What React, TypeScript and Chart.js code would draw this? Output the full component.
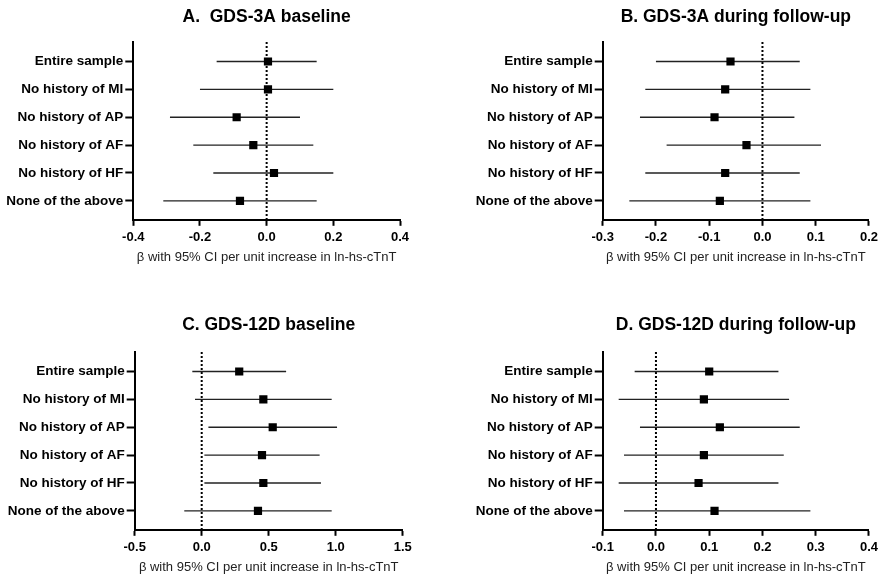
import React, { useEffect, useRef } from "react";
import { Chart, registerables } from "chart.js";

Chart.register(...registerables);

const FONT = "'Liberation Sans', Arial, sans-serif";

const categories = [
  "Entire sample",
  "No history of MI",
  "No history of AP",
  "No history of AF",
  "No history of HF",
  "None of the above",
];

const axisTitle = "β with 95% CI per unit increase in ln-hs-cTnT";

// Panel A
const titleA = "A.  GDS-3A baseline";
const betaA = [0.004, 0.004, -0.09, -0.04, 0.022, -0.08];
const lowA = [-0.15, -0.2, -0.29, -0.22, -0.16, -0.31];
const highA = [0.15, 0.2, 0.1, 0.14, 0.2, 0.15];
const ticksA = [-0.4, -0.2, 0, 0.2, 0.4];

// Panel B
const titleB = "B. GDS-3A during follow-up";
const betaB = [-0.06, -0.07, -0.09, -0.03, -0.07, -0.08];
const lowB = [-0.2, -0.22, -0.23, -0.18, -0.22, -0.25];
const highB = [0.07, 0.09, 0.06, 0.11, 0.07, 0.09];
const ticksB = [-0.3, -0.2, -0.1, 0, 0.1, 0.2];

// Panel C
const titleC = "C. GDS-12D baseline";
const betaC = [0.28, 0.46, 0.53, 0.45, 0.46, 0.42];
const lowC = [-0.07, -0.05, 0.05, 0.02, 0.02, -0.13];
const highC = [0.63, 0.97, 1.01, 0.88, 0.89, 0.97];
const ticksC = [-0.5, 0, 0.5, 1.0, 1.5];

// Panel D
const titleD = "D. GDS-12D during follow-up";
const betaD = [0.1, 0.09, 0.12, 0.09, 0.08, 0.11];
const lowD = [-0.04, -0.07, -0.03, -0.06, -0.07, -0.06];
const highD = [0.23, 0.25, 0.27, 0.24, 0.23, 0.29];
const ticksD = [-0.1, 0, 0.1, 0.2, 0.3, 0.4];

const Y_MIN = -0.7;
const Y_MAX = 5.68;

const panelTitlePlugin = {
  id: "panelTitle",
  afterDraw(chart: any, _args: any, opts: any) {
    const { ctx, chartArea } = chart;
    ctx.save();
    ctx.font = `bold 17.5px ${FONT}`;
    ctx.fillStyle = "#000";
    ctx.textAlign = "center";
    ctx.textBaseline = "middle";
    ctx.fillText(opts.text, (chartArea.left + chartArea.right) / 2, opts.y);
    ctx.restore();
  },
};

type PanelProps = {
  title: string;
  beta: number[];
  low: number[];
  high: number[];
  ticks: number[];
  left: number;
  top: number;
  yWidth: number;
  padRight: number;
  titleY: number;
};

const W = 441;
const H = 268;

function Panel(p: PanelProps) {
  const ref = useRef<HTMLCanvasElement | null>(null);
  useEffect(() => {
    if (!ref.current) return;
    const datasets: any[] = [
      {
        data: p.beta.map((b, i) => ({ x: b, y: i })),
        pointStyle: "rect",
        pointRadius: 5.8,
        pointHoverRadius: 5.8,
        backgroundColor: "#000",
        borderColor: "#000",
        borderWidth: 0,
        showLine: false,
      },
      ...categories.map((_, i) => ({
        data: [
          { x: p.low[i], y: i },
          { x: p.high[i], y: i },
        ],
        showLine: true,
        borderColor: "#222",
        borderWidth: 1.3,
        pointRadius: 0,
        pointHoverRadius: 0,
      })),
      {
        data: [
          { x: 0, y: Y_MIN },
          { x: 0, y: Y_MAX },
        ],
        showLine: true,
        borderColor: "#000",
        borderWidth: 2,
        borderDash: [2, 2],
        pointRadius: 0,
        pointHoverRadius: 0,
      },
    ];
    const gridOpts = (len: number) => ({
      display: true,
      drawOnChartArea: false,
      drawTicks: true,
      tickLength: len,
      tickWidth: 2,
      tickColor: "#000",
      color: "#000",
    });
    const chart = new Chart(ref.current, {
      type: "scatter",
      data: { datasets },
      plugins: [panelTitlePlugin as any],
      options: {
        animation: false,
        responsive: false,
        events: [],
        layout: { padding: { top: 42, right: p.padRight, bottom: 0, left: 0 } },
        plugins: {
          legend: { display: false },
          tooltip: { enabled: false },
          panelTitle: { text: p.title, y: p.titleY },
        } as any,
        scales: {
          x: {
            type: "linear",
            min: p.ticks[0],
            max: p.ticks[p.ticks.length - 1],
            afterBuildTicks: (s: any) => {
              s.ticks = p.ticks.map((v) => ({ value: v }));
            },
            ticks: {
              callback: (v: any) => Number(v).toFixed(1),
              font: { family: FONT, size: 13, weight: "bold" },
              color: "#000",
              padding: 4,
              maxRotation: 0,
              autoSkip: false,
            },
            grid: gridOpts(6),
            border: { display: true, color: "#000", width: 2 },
            title: {
              display: true,
              text: axisTitle,
              font: { family: FONT, size: 13 },
              color: "#222",
              padding: { top: 0.5, bottom: 2.5 },
            },
          },
          y: {
            type: "linear",
            reverse: true,
            min: Y_MIN,
            max: Y_MAX,
            afterBuildTicks: (s: any) => {
              s.ticks = categories.map((_, i) => ({ value: i }));
            },
            afterFit: (s: any) => {
              s.width = p.yWidth;
            },
            ticks: {
              callback: (v: any) => categories[Math.round(Number(v))] ?? "",
              font: { family: FONT, size: 13.5, weight: "bold" },
              color: "#000",
              padding: 2,
              autoSkip: false,
            },
            grid: gridOpts(8),
            border: { display: true, color: "#000", width: 2 },
          },
        },
      } as any,
    });
    return () => chart.destroy();
  }, []);
  return (
    <div style={{ position: "absolute", left: p.left, top: p.top, width: W, height: H }}>
      <canvas ref={ref} width={W} height={H} style={{ display: "block" }} />
    </div>
  );
}

export default function App() {
  return (
    <div style={{ position: "absolute", left: 0, top: 0, width: 882, height: 578, background: "#fff" }}>
      <Panel title={titleA} beta={betaA} low={lowA} high={highA} ticks={ticksA}
        left={0} top={0} yWidth={133.3} padRight={41} titleY={17.5} />
      <Panel title={titleB} beta={betaB} low={lowB} high={highB} ticks={ticksB}
        left={441} top={0} yWidth={161.7} padRight={12} titleY={17.5} />
      <Panel title={titleC} beta={betaC} low={lowC} high={highC} ticks={ticksC}
        left={0} top={310} yWidth={134.7} padRight={38.3} titleY={15.5} />
      <Panel title={titleD} beta={betaD} low={lowD} high={highD} ticks={ticksD}
        left={441} top={310} yWidth={161.7} padRight={12} titleY={15.5} />
    </div>
  );
}
